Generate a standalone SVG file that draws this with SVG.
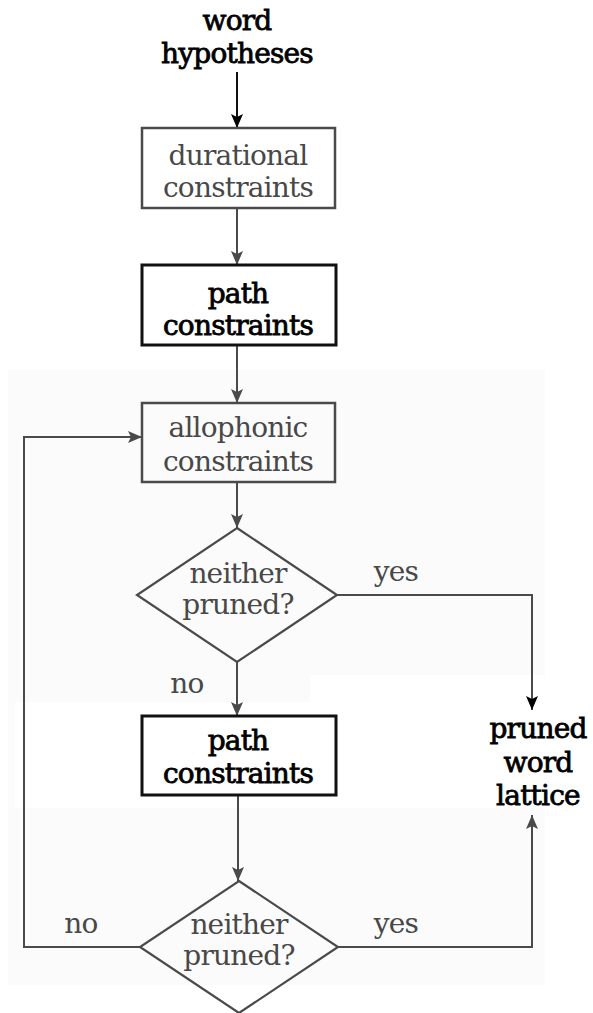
<svg xmlns="http://www.w3.org/2000/svg" width="593" height="1013" viewBox="0 0 593 1013">
  <style>
    text { font-family: "DejaVu Serif", "Liberation Serif", serif; font-size: 28px; letter-spacing: -0.8px; text-anchor: middle; }
    .soft { fill: #484848; }
    .strong { fill: #000; stroke: #000; stroke-width: 0.8px; }
    .box { fill: none; stroke: #4a4a4a; stroke-width: 2.5; }
    .box-strong { fill: none; stroke: #111; stroke-width: 3; }
    .shape { fill: none; stroke: #4a4a4a; stroke-width: 2.2; stroke-linejoin: miter; }
    .wire { fill: none; stroke: #4a4a4a; stroke-width: 2; }
    .wire-dark { fill: none; stroke: #111; stroke-width: 2; }
  </style>
  <defs>
    <marker id="head" markerUnits="userSpaceOnUse" markerWidth="14" markerHeight="12" viewBox="0 0 14 12" refX="14" refY="6" orient="auto">
      <path d="M0,0 L14,6 L0,12 L3,6 z" fill="#4a4a4a"/>
    </marker>
    <marker id="head-dark" markerUnits="userSpaceOnUse" markerWidth="14" markerHeight="12" viewBox="0 0 14 12" refX="14" refY="6" orient="auto">
      <path d="M0,0 L14,6 L0,12 L3,6 z" fill="#000"/>
    </marker>
  </defs>

  <!-- paper, with a faintly tinted lower sheet -->
  <rect x="0" y="0" width="593" height="1013" fill="#fff"/>
  <rect x="8" y="370" width="537" height="615" fill="#fbfbfb"/>
  <rect x="15" y="702" width="295" height="106" fill="#fff"/>
  <rect x="310" y="675" width="283" height="133" fill="#fff"/>

  <!-- connectors -->
  <g id="connectors">
    <path class="wire-dark" d="M237,72 V128" marker-end="url(#head-dark)"/>
    <path class="wire" d="M237,208 V265" marker-end="url(#head)"/>
    <path class="wire" d="M237,345 V403" marker-end="url(#head)"/>
    <path class="wire" d="M237,482 V528" marker-end="url(#head)"/>
    <path class="wire" d="M237,662 V716" marker-end="url(#head)"/>
    <path class="wire" d="M238,795 V881" marker-end="url(#head)"/>
    <path class="wire" d="M337,595 H532 V710" marker-end="url(#head-dark)"/>
    <path class="wire" d="M338,947 H532 V815" marker-end="url(#head)"/>
    <path class="wire" d="M140,947 H24 V437 H142" marker-end="url(#head)"/>
  </g>

  <!-- edge labels -->
  <g id="labels">
    <text class="soft" x="396" y="581">yes</text>
    <text class="soft" x="187" y="693">no</text>
    <text class="soft" x="396" y="933">yes</text>
    <text class="soft" x="81" y="933">no</text>
  </g>

  <g id="input">
    <text class="strong" x="237" y="30">word</text>
    <text class="strong" x="237" y="63">hypotheses</text>
  </g>

  <g id="durational">
    <rect class="box" x="142" y="128" width="193" height="80"/>
    <text class="soft" x="238" y="165">durational</text>
    <text class="soft" x="238" y="197">constraints</text>
  </g>

  <g id="path1">
    <rect class="box-strong" x="142" y="265" width="194" height="80"/>
    <text class="strong" x="238" y="303">path</text>
    <text class="strong" x="238" y="335">constraints</text>
  </g>

  <g id="allophonic">
    <rect class="box" x="142" y="403" width="193" height="79"/>
    <text class="soft" x="238" y="437">allophonic</text>
    <text class="soft" x="238" y="471">constraints</text>
  </g>

  <g id="check1">
    <polygon class="shape" points="237,528 337,595 237,662 137,595"/>
    <text class="soft" x="238" y="583">neither</text>
    <text class="soft" x="238" y="614">pruned?</text>
  </g>

  <g id="path2">
    <rect class="box-strong" x="142" y="716" width="194" height="79"/>
    <text class="strong" x="238" y="750">path</text>
    <text class="strong" x="238" y="783">constraints</text>
  </g>

  <g id="check2">
    <polygon class="shape" points="239,881 338,947 239,1013 140,947"/>
    <text class="soft" x="239" y="934">neither</text>
    <text class="soft" x="239" y="965">pruned?</text>
  </g>

  <g id="output">
    <text class="strong" x="538" y="738">pruned</text>
    <text class="strong" x="538" y="772">word</text>
    <text class="strong" x="538" y="805">lattice</text>
  </g>
</svg>
